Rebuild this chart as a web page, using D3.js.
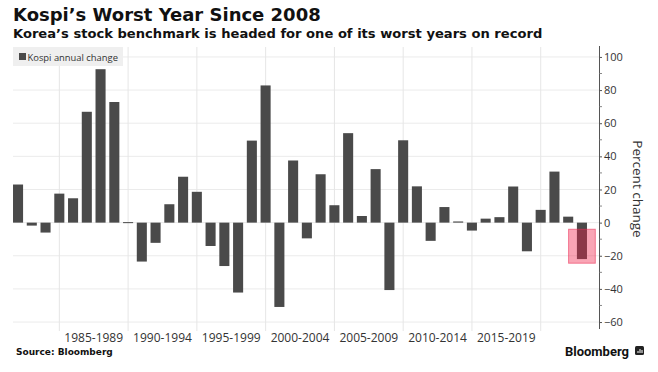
<!DOCTYPE html>
<html>
<head>
<meta charset="utf-8">
<script src="https://cdn.jsdelivr.net/npm/d3@7"></script>
<style>
  html, body { margin: 0; padding: 0; background: #fff; }
  svg { display: block; }
  .title { font-family: 'DejaVu Sans', sans-serif; font-weight: bold; fill: #111; }
  .axis-text { font-family: 'Open Sans', sans-serif; fill: #333; }
</style>
</head>
<body>
<script>
// Kospi annual change, percent (year-end to year-end)
const years = [1981, 1982, 1983, 1984, 1985, 1986, 1987, 1988, 1989, 1990,
  1991, 1992, 1993, 1994, 1995, 1996, 1997, 1998, 1999, 2000,
  2001, 2002, 2003, 2004, 2005, 2006, 2007, 2008, 2009, 2010,
  2011, 2012, 2013, 2014, 2015, 2016, 2017, 2018, 2019, 2020,
  2021, 2022];
const changes = [23, -1.8, -6, 17.5, 14.7, 66.9, 92.6, 72.8, 0.3, -23.5,
  -12.2, 11.1, 27.7, 18.6, -14.1, -26.2, -42.2, 49.5, 82.8, -50.9,
  37.5, -9.5, 29.2, 10.5, 54, 4, 32.3, -40.7, 49.7, 21.9,
  -11, 9.4, 0.7, -4.8, 2.4, 3.3, 21.8, -17.3, 7.7, 30.8,
  3.6, -22];

const gridYears = [1985, 1990, 1995, 2000, 2005, 2010, 2015, 2020];
const periodLabels = ['1985-1989', '1990-1994', '1995-1999', '2000-2004',
  '2005-2009', '2010-2014', '2015-2019'];
const yTicks = [-60, -40, -20, 0, 20, 40, 60, 80, 100];
const yMinorTicks = [-50, -30, -10, 10, 30, 50, 70, 90];

// highlighted year and its box (percent)
const highlightYear = 2022;
const highlightRange = [-4, -24.5];

const w = 658;
const h = 372;
const plot = { left: 13, right: 599, top: 47, bottom: 328 };

const svg = d3.select('body')
  .append('svg')
  .attr('width', w)
  .attr('height', h);

// bars sit on the last day of their year
const yearEnd = y => new Date(y, 11, 31);

const xScale = d3.scaleTime()
  .domain([new Date(1981, 7, 19), new Date(2024, 2, 28)])
  .range([plot.left, plot.right]);

const yScale = d3.scaleLinear()
  .domain([-63.6, 106])
  .range([plot.bottom, plot.top]);

const yearWidth = xScale(new Date(2001, 0, 1)) - xScale(new Date(2000, 0, 1));
const barWidth = yearWidth * 0.73;

// Gridlines
svg.append('g')
  .selectAll('line')
  .data(yTicks)
  .enter()
  .append('line')
  .attr('x1', plot.left)
  .attr('x2', plot.right)
  .attr('y1', d => yScale(d))
  .attr('y2', d => yScale(d))
  .attr('stroke', '#ebebeb')
  .attr('stroke-width', 1);

svg.append('g')
  .selectAll('line')
  .data(gridYears)
  .enter()
  .append('line')
  .attr('x1', d => xScale(new Date(d, 0, 1)))
  .attr('x2', d => xScale(new Date(d, 0, 1)))
  .attr('y1', plot.top)
  .attr('y2', plot.bottom + 3)
  .attr('stroke', '#e6e6e6')
  .attr('stroke-width', 1);

// Legend
svg.append('rect')
  .attr('x', 13)
  .attr('y', 47)
  .attr('width', 110)
  .attr('height', 19)
  .attr('fill', '#efefef');

svg.append('rect')
  .attr('x', 19)
  .attr('y', 53)
  .attr('width', 7)
  .attr('height', 7)
  .attr('fill', '#4a4a4a');

svg.append('text')
  .attr('class', 'axis-text')
  .attr('x', 27.5)
  .attr('y', 60.5)
  .style('font-size', '9.4px')
  .text('Kospi annual change');

// Bars
svg.append('g')
  .selectAll('rect')
  .data(years.map((y, i) => [y, changes[i]]))
  .enter()
  .append('rect')
  .attr('x', d => xScale(yearEnd(d[0])) - barWidth / 2)
  .attr('y', d => yScale(Math.max(0, d[1])))
  .attr('width', barWidth)
  .attr('height', d => Math.max(1, Math.abs(yScale(d[1]) - yScale(0))))
  .attr('fill', '#4a4a4a');

// Highlight box
const hx = xScale(yearEnd(highlightYear));
svg.append('rect')
  .attr('x', hx - yearWidth * 0.97)
  .attr('y', yScale(highlightRange[0]))
  .attr('width', yearWidth * 1.94)
  .attr('height', yScale(highlightRange[1]) - yScale(highlightRange[0]))
  .attr('fill', 'rgb(240, 30, 70)')
  .attr('fill-opacity', 0.4)
  .attr('stroke', 'rgb(235, 40, 80)')
  .attr('stroke-opacity', 0.55)
  .attr('stroke-width', 1);

// Y axis (right)
const yAxis = d3.axisRight(yScale)
  .tickValues(yTicks)
  .tickSize(3)
  .tickPadding(2);

const yAxisG = svg.append('g')
  .attr('transform', `translate(${plot.right}, 0)`)
  .call(yAxis);

yAxisG.select('.domain')
  .attr('d', `M0.5,${plot.top - 1}V${plot.bottom + 1}`)
  .attr('stroke', '#555');
yAxisG.selectAll('.tick line').attr('stroke', '#555');
yAxisG.selectAll('.tick text')
  .attr('class', 'axis-text')
  .style('font-size', '11px')
  .attr('fill', '#333');

svg.append('g')
  .attr('transform', `translate(${plot.right}, 0)`)
  .selectAll('line')
  .data(yMinorTicks)
  .enter()
  .append('line')
  .attr('x1', 0.5)
  .attr('x2', 3)
  .attr('y1', d => yScale(d))
  .attr('y2', d => yScale(d))
  .attr('stroke', '#888');

svg.append('text')
  .attr('class', 'axis-text')
  .attr('transform', `translate(633, ${yScale(20) - 0.5}) rotate(90)`)
  .attr('text-anchor', 'middle')
  .style('font-size', '13.5px')
  .text('Percent change');

// X labels
svg.append('g')
  .selectAll('text')
  .data(periodLabels)
  .enter()
  .append('text')
  .attr('class', 'axis-text')
  .attr('x', (d, i) => (xScale(new Date(gridYears[i], 0, 1)) + xScale(new Date(gridYears[i + 1], 0, 1))) / 2)
  .attr('y', 341.5)
  .attr('text-anchor', 'middle')
  .style('font-size', '12px')
  .attr('fill', '#444')
  .text(d => d);

// Titles
svg.append('text')
  .attr('class', 'title')
  .attr('x', 13)
  .attr('y', 21)
  .style('font-size', '18px')
  .text('Kospi’s Worst Year Since 2008');

svg.append('text')
  .attr('class', 'title')
  .attr('x', 13)
  .attr('y', 38)
  .style('font-size', '13.1px')
  .text('Korea’s stock benchmark is headed for one of its worst years on record');

// Source
svg.append('text')
  .attr('class', 'title')
  .attr('x', 16)
  .attr('y', 355)
  .style('font-size', '9px')
  .text('Source: Bloomberg');

// Bloomberg logo
svg.append('text')
  .attr('x', 629)
  .attr('y', 356)
  .attr('text-anchor', 'end')
  .style('font-family', 'Roboto, sans-serif')
  .style('font-weight', 'bold')
  .style('font-size', '13px')
  .attr('fill', '#111')
  .text('Bloomberg');

const logo = svg.append('g').attr('transform', 'translate(635, 346)');
logo.append('rect')
  .attr('width', 9)
  .attr('height', 9)
  .attr('rx', 1.5)
  .attr('fill', '#222');
logo.append('path')
  .attr('d', 'M3,7V5M5,7V3M7,7V4')
  .attr('stroke', '#fff')
  .attr('stroke-width', 1);
</script>
</body>
</html>
